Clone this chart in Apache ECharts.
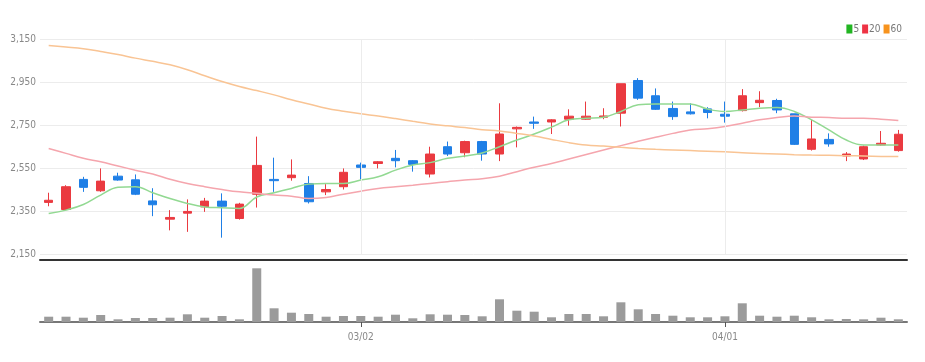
<!DOCTYPE html>
<html><head><meta charset="utf-8">
<script src="https://cdn.jsdelivr.net/npm/echarts@6/dist/echarts.min.js"></script>
<style>html,body{margin:0;padding:0;background:#fff}#c{width:925px;height:362px}</style>
</head><body><div id="c"></div>
<script>
const dates = ['02/03','02/04','02/07','02/08','02/09','02/10','02/11','02/14','02/15','02/16','02/17','02/18','02/21','02/22','02/23','02/24','02/25','02/28',
'03/02','03/03','03/04','03/07','03/08','03/10','03/11','03/14','03/15','03/16','03/17','03/18','03/21','03/22','03/23','03/24','03/25','03/28','03/29','03/30','03/31',
'04/01','04/04','04/05','04/06','04/07','04/08','04/11','04/12','04/13','04/14','04/15'];
const labelDates = ['03/02','04/01'];
const opens  = [2390,2357,2497,2444,2512,2495,2397,2312,2340,2369,2396,2315,2428,2497,2505,2478,2439,2463,2564,2571,2595,2584,2522,2649,2621,2673,2615,2732,2764,2764,2777,2777,2786,2805,2957,2886,2827,2811,2825,2800,2817,2854,2864,2802,2637,2683,2606,2592,2657,2631];
const closes = [2400,2463,2460,2489,2494,2428,2379,2320,2348,2396,2372,2382,2562,2491,2517,2393,2450,2530,2553,2579,2584,2567,2615,2615,2673,2615,2708,2739,2758,2774,2791,2791,2792,2942,2875,2823,2789,2802,2808,2791,2886,2865,2820,2660,2685,2662,2615,2649,2665,2707];
const lows   = [2372,2354,2439,2439,2491,2424,2326,2260,2253,2346,2226,2310,2366,2439,2491,2385,2424,2450,2497,2548,2553,2533,2506,2606,2600,2584,2582,2646,2732,2708,2747,2774,2777,2743,2867,2820,2774,2799,2781,2761,2813,2833,2805,2657,2631,2649,2582,2587,2654,2626];
const highs  = [2435,2470,2509,2548,2528,2520,2456,2354,2404,2411,2432,2388,2696,2598,2590,2512,2475,2548,2575,2582,2634,2587,2649,2673,2677,2676,2851,2743,2789,2777,2823,2859,2828,2942,2968,2920,2859,2851,2833,2859,2917,2907,2872,2802,2774,2711,2624,2654,2722,2727];
const ma5  = [2338,2354,2380,2424,2460,2463,2435,2408,2385,2369,2365,2362,2415,2435,2455,2475,2478,2478,2494,2509,2540,2564,2575,2595,2606,2620,2649,2680,2708,2740,2774,2781,2786,2813,2844,2848,2848,2848,2824,2813,2820,2828,2831,2813,2774,2727,2680,2657,2657,2657];
const ma20 = [2641,2618,2595,2579,2559,2540,2522,2498,2478,2463,2450,2439,2432,2424,2419,2408,2413,2428,2442,2455,2463,2470,2478,2486,2494,2500,2512,2533,2553,2571,2592,2613,2634,2654,2674,2693,2711,2727,2733,2743,2758,2774,2785,2792,2786,2785,2781,2781,2777,2771];
const ma60 = [3120,3113,3105,3092,3078,3061,3046,3030,3007,2979,2952,2929,2910,2890,2867,2848,2828,2814,2802,2792,2780,2767,2755,2746,2738,2728,2722,2711,2699,2683,2668,2657,2652,2646,2641,2637,2634,2631,2628,2626,2621,2618,2615,2612,2610,2609,2607,2606,2604,2603];
const volumes = [53000,53000,43000,70000,27000,40000,40000,43000,77000,43000,60000,27000,537000,137000,93000,80000,53000,60000,60000,53000,73000,37000,77000,73000,70000,57000,227000,113000,103000,47000,80000,80000,57000,197000,127000,80000,63000,47000,47000,57000,187000,63000,53000,63000,47000,27000,30000,27000,43000,27000];
const yTicks = {min: 2150, max: 3150, interval: 200};

const FONT = "'Liberation Sans Narrow', 'DejaVu Sans Condensed', 'Liberation Sans', sans-serif";
const showIdx = (i) => labelDates.indexOf(dates[i]) >= 0;
const candleData = dates.map((d, i) => [opens[i], closes[i], lows[i], highs[i]]);

const chart = echarts.init(document.getElementById('c'), null, {renderer: 'canvas'});
chart.setOption({
  animation: false,
  backgroundColor: '#fff',
  legend: {
    right: 18, top: 19, itemWidth: 6, itemHeight: 9, itemGap: 3, icon: 'rect',
    textStyle: {color: '#777', fontSize: 10, fontFamily: FONT, padding: [0,0,0,-4]},
    data: [
      {name: '5', itemStyle: {color: '#22b522'}},
      {name: '20', itemStyle: {color: '#ee3344'}},
      {name: '60', itemStyle: {color: '#f7931e'}}
    ]
  },
  grid: [
    {left: 40, right: 18, top: 39, height: 215},
    {left: 40, right: 18, top: 268, height: 54}
  ],
  xAxis: [
    {type: 'category', gridIndex: 0, data: dates, offset: 6, boundaryGap: true,
     axisLine: {lineStyle: {color: '#333', width: 2}}, axisTick: {show: false},
     axisLabel: {show: false}, splitLine: {show: false}},
    {type: 'category', gridIndex: 1, data: dates, boundaryGap: true,
     axisLine: {lineStyle: {color: '#777', width: 2}},
     axisTick: {show: true, alignWithLabel: true, interval: (i) => showIdx(i), length: 5, lineStyle: {color: '#555'}},
     axisLabel: {interval: (i) => showIdx(i), color: '#888', fontSize: 10, fontFamily: FONT, margin: 10},
     splitLine: {show: false}}
  ],
  yAxis: [
    {type: 'value', gridIndex: 0, min: yTicks.min, max: yTicks.max, interval: yTicks.interval,
     axisLine: {show: false}, axisTick: {show: false},
     axisLabel: {color: '#888', fontSize: 10, fontFamily: FONT, margin: 4,
       formatter: (v) => v.toLocaleString('en-US')},
     splitLine: {lineStyle: {color: '#ececec', width: 1}}},
    {type: 'value', gridIndex: 1, min: 0, max: 540000,
     axisLine: {show: false}, axisTick: {show: false}, axisLabel: {show: false}, splitLine: {show: false}}
  ],
  series: [
    {type: 'candlestick', name: 'price', xAxisIndex: 0, yAxisIndex: 0, data: candleData, barWidth: 9,
     itemStyle: {color: '#ea3a40', color0: '#1f7fe6', borderColor: '#ea3a40', borderColor0: '#1f7fe6', borderWidth: 1},
     markLine: {silent: true, symbol: 'none', label: {show: false},
       lineStyle: {color: '#ececec', type: 'solid', width: 1},
       data: labelDates.map(d => ({xAxis: d}))}},
    {type: 'line', name: '5', data: ma5, smooth: 0.4, showSymbol: false, symbol: 'none',
     itemStyle: {color: '#22b522'}, lineStyle: {color: '#92d992', width: 1.5}, z: 3},
    {type: 'line', name: '20', data: ma20, smooth: 0.4, showSymbol: false, symbol: 'none',
     itemStyle: {color: '#ee3344'}, lineStyle: {color: '#f5a5ad', width: 1.5}, z: 3},
    {type: 'line', name: '60', data: ma60, smooth: 0.4, showSymbol: false, symbol: 'none',
     itemStyle: {color: '#f7931e'}, lineStyle: {color: '#f9c494', width: 1.5}, z: 3},
    {type: 'bar', name: 'volume', xAxisIndex: 1, yAxisIndex: 1, data: volumes, barWidth: 9,
     itemStyle: {color: '#9b9b9b'}}
  ]
});
</script>
</body></html>
